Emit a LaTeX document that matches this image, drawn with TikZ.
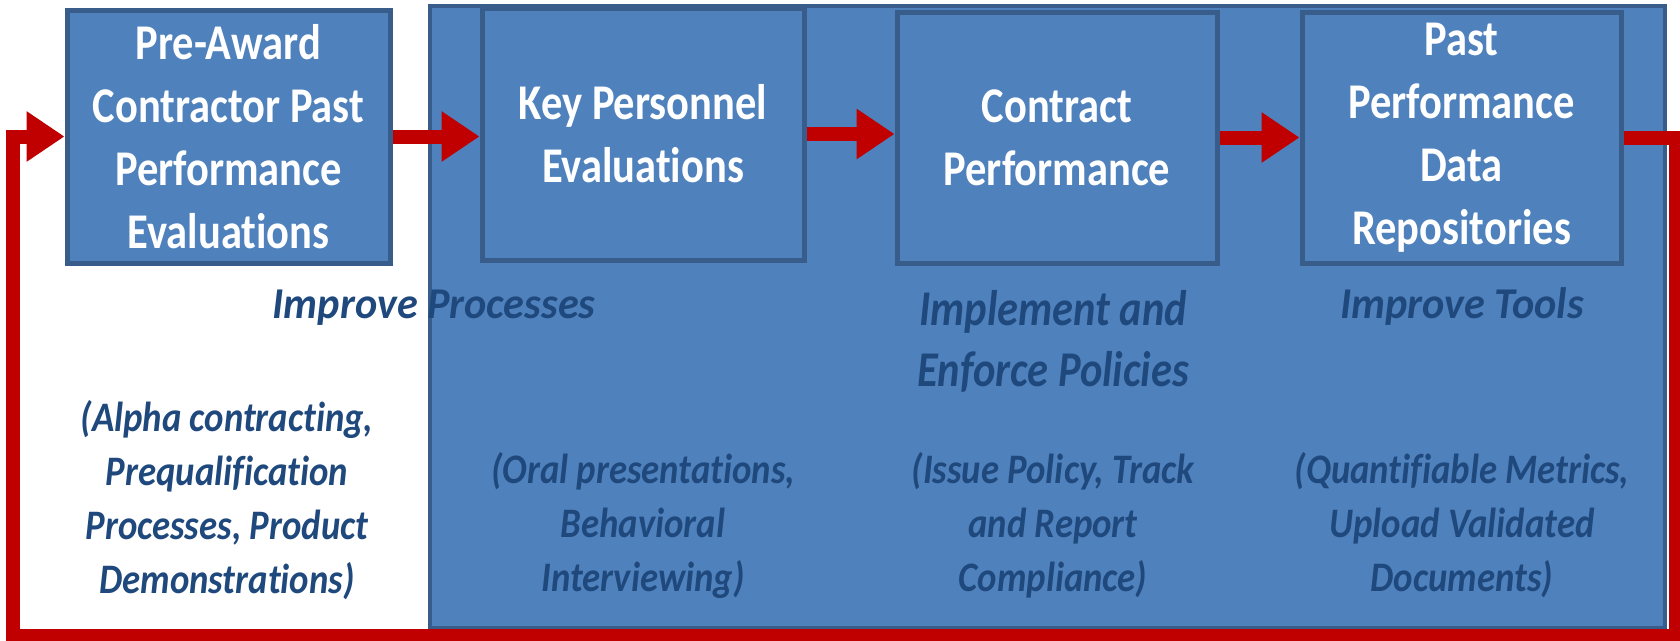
\documentclass[tikz,border=0pt]{standalone}
\usepackage{fontspec}
\setmainfont[Ligatures=NoCommon]{Carlito}
\newfontfamily\boxfont[FakeStretch=0.85,Ligatures=NoCommon]{Carlito}
\newfontfamily\headAfont[FakeStretch=0.96,Ligatures=NoCommon]{Carlito}
\newfontfamily\headBfont[FakeStretch=0.85,Ligatures=NoCommon]{Carlito}
\newfontfamily\detailfont[FakeStretch=0.875,Ligatures=NoCommon]{Carlito}
\usetikzlibrary{arrows.meta}
\definecolor{boxfill}{HTML}{4F81BD}
\definecolor{boxline}{HTML}{385D8A}
\definecolor{loopred}{HTML}{C00000}
\definecolor{labelblue}{HTML}{1F497D}
\begin{document}
\begin{tikzpicture}[x=1pt,y=-1pt,
  panel/.style={draw=boxline, fill=boxfill, line width=3.5pt, inner sep=0pt},
  stepbox/.style={draw=boxline, fill=boxfill, line width=5pt, inner sep=0pt,
    text=white, align=center, font=\boxfont\fontsize{50}{63}\selectfont\bfseries},
  fat/.style={draw=loopred, line width=14pt, line join=miter,
    -{Triangle[width=48pt,length=38pt]}},
  headinga/.style={text=labelblue, align=center, font=\headAfont\fontsize{44}{61}\selectfont\bfseries\itshape},
  headingb/.style={text=labelblue, align=center, font=\headBfont\fontsize{50}{61}\selectfont\bfseries\itshape},
  detail/.style={text=labelblue, align=center, font=\detailfont\fontsize{42}{54}\selectfont\bfseries\itshape}]
\useasboundingbox (0,0) rectangle (1680,640);
\fill[white] (0,0) rectangle (1680,640);
% large background panel
\node[panel, minimum width=1235pt, minimum height=622pt] (panel) at (1047.5,317) {};
% process boxes
\node[stepbox, minimum width=323pt, minimum height=253pt] (b1) at (228.5,136.5)
  {Pre-Award\\Contractor Past\\Performance\\Evaluations};
\node[stepbox, minimum width=322pt, minimum height=252pt] (b2) at (643,134)
  {Key Personnel\\Evaluations};
\node[stepbox, minimum width=320pt, minimum height=251pt] (b3) at (1057,137.5)
  {Contract\\Performance};
\node[stepbox, minimum width=319pt, minimum height=251pt] (b4) at (1461.5,137.5)
  {Past\\Performance\\Data\\Repositories};
% forward arrows
\draw[fat] (b1.east) -- (b1.east -| b2.west);
\draw[fat] (b2.east) -- (b2.east -| b3.west);
\draw[fat] (b3.east) -- (b3.east -| b4.west);
% feedback loop
\coordinate (br) at (1676,636);
\coordinate (bl) at (13,636);
\draw[fat] (b4.east) -| (br) -- (bl) |- (b1.west);
% labels
\node[headinga] (h1) at (434,308) {Improve Processes};
\node[headingb] (h2) at (1053,341) {Implement and\\Enforce Policies};
\node[headinga] (h3) at (1462,307) {Improve Tools};
\node[detail] (d1) at (227,500) {(Alpha contracting,\\Prequalification\\Processes, Product\\Demonstrations)};
\node[detail] (d2) at (643,525) {(Oral presentations,\\Behavioral\\Interviewing)};
\node[detail] (d3) at (1053,525) {(Issue Policy, Track\\and Report\\Compliance)};
\node[detail] (d4) at (1462,525) {(Quantifiable Metrics,\\Upload Validated\\Documents)};
\end{tikzpicture}
\end{document}
